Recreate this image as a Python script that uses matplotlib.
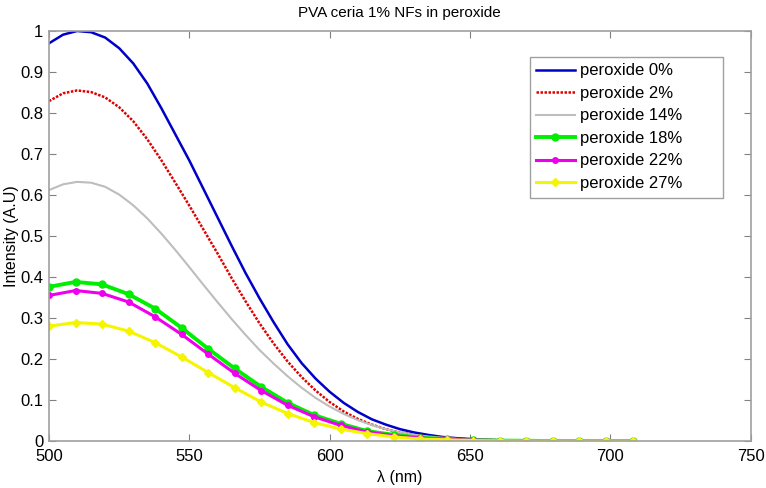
import matplotlib
matplotlib.use("Agg")
import matplotlib.pyplot as plt

# wavelength grid of the plain (unmarked) curves, nm
wavelength_fine = [500, 505, 510, 515, 520, 525, 530, 535, 540, 545, 550, 555, 560, 565,
                   570, 575, 580, 585, 590, 595, 600, 605, 610, 615, 620, 625, 630, 635,
                   640, 645, 650, 655, 660, 670, 680, 690, 700, 708]

peroxide_0 = [0.970, 0.991, 1.000, 0.997, 0.984, 0.958, 0.921, 0.872, 0.812, 0.748,
              0.684, 0.615, 0.546, 0.477, 0.410, 0.348, 0.290, 0.236, 0.190, 0.152,
              0.120, 0.093, 0.071, 0.053, 0.040, 0.029, 0.021, 0.015, 0.010, 0.007,
              0.005, 0.003, 0.002, 0.001, 0.0, 0.0, 0.0, 0.0]
peroxide_2 = [0.829, 0.848, 0.855, 0.851, 0.838, 0.814, 0.780, 0.736, 0.685, 0.630,
              0.574, 0.516, 0.458, 0.398, 0.341, 0.287, 0.238, 0.194, 0.156, 0.123,
              0.095, 0.072, 0.054, 0.040, 0.029, 0.021, 0.015, 0.011, 0.008, 0.005,
              0.004, 0.003, 0.002, 0.001, 0.0, 0.0, 0.0, 0.0]
peroxide_14 = [0.612, 0.626, 0.632, 0.630, 0.620, 0.601, 0.575, 0.543, 0.506, 0.466,
               0.424, 0.381, 0.339, 0.298, 0.259, 0.222, 0.189, 0.158, 0.130, 0.105,
               0.084, 0.066, 0.051, 0.039, 0.029, 0.021, 0.015, 0.011, 0.008, 0.005,
               0.004, 0.003, 0.002, 0.001, 0.0, 0.0, 0.0, 0.0]

# wavelength samples of the marked curves, nm
wavelength = [500.0, 509.45, 518.9, 528.35, 537.8, 547.25, 556.7, 566.15, 575.6, 585.05,
              594.5, 603.95, 613.4, 622.85, 632.3, 641.75, 651.2, 660.65, 670.1, 679.55,
              689.0, 698.45, 707.9]

peroxide_18 = [0.376, 0.388, 0.382, 0.358, 0.323, 0.276, 0.225, 0.177, 0.132, 0.093,
               0.063, 0.042, 0.024, 0.015, 0.008, 0.004, 0.002, 0.001, 0.0005, 0.0,
               0.0, 0.0, 0.0]
peroxide_22 = [0.355, 0.367, 0.360, 0.339, 0.303, 0.260, 0.212, 0.165, 0.123, 0.087,
               0.059, 0.038, 0.022, 0.013, 0.007, 0.004, 0.002, 0.001, 0.0, 0.0,
               0.0, 0.0, 0.0]
peroxide_27 = [0.280, 0.289, 0.285, 0.268, 0.240, 0.205, 0.167, 0.130, 0.095, 0.067,
               0.045, 0.029, 0.018, 0.010, 0.005, 0.003, 0.001, 0.0005, 0.0, 0.0,
               0.0, 0.0, 0.0]

labels = ['peroxide 0%', 'peroxide 2%', 'peroxide 14%',
          'peroxide 18%', 'peroxide 22%', 'peroxide 27%']

x_ticks = [500, 550, 600, 650, 700, 750]
y_ticks = [0, 0.1, 0.2, 0.3, 0.4, 0.5, 0.6, 0.7, 0.8, 0.9, 1]
y_ticklabels = ['0', '0.1', '0.2', '0.3', '0.4', '0.5', '0.6', '0.7', '0.8', '0.9', '1']

plt.rcParams['font.family'] = ['Liberation Sans', 'DejaVu Sans']

fig = plt.figure(figsize=(7.66, 4.88), dpi=100)
ax = fig.add_axes([0.064, 0.0963, 0.916, 0.8402])

ax.plot(wavelength_fine, peroxide_0, color='#0000C8', lw=1.8, label=labels[0])
ax.plot(wavelength_fine, peroxide_2, color='#E00000', lw=1.8, ls=(0, (1, 0.6)), label=labels[1])
ax.plot(wavelength_fine, peroxide_14, color='#BDBDBD', lw=1.5, label=labels[2])
ax.plot(wavelength, peroxide_18, color='#00EE00', lw=2.8, marker='o', ms=5, label=labels[3])
ax.plot(wavelength, peroxide_22, color='#EE00EE', lw=2.2, marker='o', ms=4, label=labels[4])
ax.plot(wavelength, peroxide_27, color='#F5F500', lw=2.2, marker='D', ms=4, label=labels[5])

ax.set_xlim(500, 750)
ax.set_ylim(0, 1)
ax.set_xticks(x_ticks)
ax.set_yticks(y_ticks)
ax.set_yticklabels(y_ticklabels)
ax.tick_params(direction='in', top=True, right=True, length=5, color='#808080',
               labelsize=12)
ax.tick_params(axis='x', pad=6)
ax.tick_params(axis='y', pad=4)
for sp in ax.spines.values():
    sp.set_color('#A0A0A0')
    sp.set_linewidth(1.2)

ax.set_title('PVA ceria 1% NFs in peroxide', fontsize=11, pad=10)
ax.set_xlabel('\u03bb (nm)', fontsize=11.5, labelpad=4)
ax.set_ylabel('Intensity (A.U)', fontsize=11.5, labelpad=1)

# MATLAB-like legend box: fixed width, text left aligned
leg = ax.legend(loc='upper left', bbox_to_anchor=(0.685, 0.593, 0.275, 0.344),
                mode='expand', fontsize=12, handlelength=2.3, fancybox=False,
                framealpha=1, borderpad=0.4, labelspacing=0.45, handletextpad=0.35,
                borderaxespad=0)
leg.get_frame().set_edgecolor('#A0A0A0')
leg.get_frame().set_linewidth(1.0)

fig.savefig('out.png', dpi=100)
